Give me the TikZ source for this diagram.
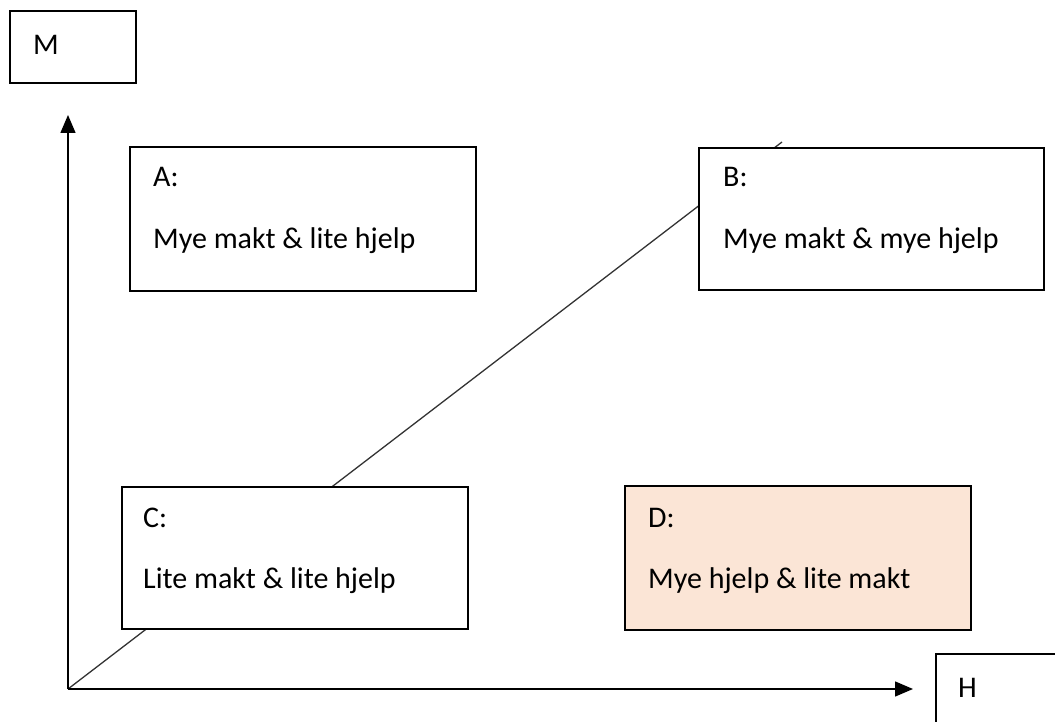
\documentclass[tikz,border=0pt]{standalone}
\usepackage{fontspec}
\setmainfont{Carlito}
\usetikzlibrary{arrows.meta}
\definecolor{peach}{HTML}{FBE5D6}
\tikzset{
  box/.style={draw, line width=2.3pt, fill=white, anchor=north west, inner sep=0pt},
  boxtext/.style={anchor=base west, inner sep=0pt},
  axis/.style={line width=1.4pt, -{Triangle[length=18pt,width=15pt]}},
}

\begin{document}
\begin{tikzpicture}[x=1pt, y=-1pt, font=\fontsize{30}{36}\selectfont]
\useasboundingbox (0,0) rectangle (1055,722);
\coordinate (o) at (68,689);
\coordinate (ytip) at (68,115);
\coordinate (xtip) at (913,689);
\coordinate (diagend) at (782,142);
\draw[line width=1.3pt, black!80] (o) -- (diagend);
\draw[axis] (o) -- (ytip);
\draw[axis] (o) -- (xtip);
\node[box, minimum width=126, minimum height=72] (mbox) at (9,10) {};
\node[boxtext] (mtext) at (33,55) {M};
\node[box, minimum width=346, minimum height=144] (abox) at (129,146) {};
\node[boxtext] (ahead) at (153,187) {A:};
\node[boxtext] (atext) at (153,248) {Mye makt \& lite hjelp};
\node[box, minimum width=345, minimum height=142] (bbox) at (698,147) {};
\node[boxtext] (bhead) at (723,187) {B:};
\node[boxtext] (btext) at (723,248) {Mye makt \& mye hjelp};
\node[box, minimum width=346, minimum height=142] (cbox) at (121,486) {};
\node[boxtext] (chead) at (143,527) {C:};
\node[boxtext] (ctext) at (143,588) {Lite makt \& lite hjelp};
\node[box, fill=peach, minimum width=346, minimum height=144] (dbox) at (624,485) {};
\node[boxtext] (dhead) at (648,527) {D:};
\node[boxtext] (dtext) at (648,588) {Mye hjelp \& lite makt};
\node[box, minimum width=140, minimum height=100] (hbox) at (935,653) {};
\node[boxtext] (htext) at (958,697) {H};
\end{tikzpicture}
\end{document}
